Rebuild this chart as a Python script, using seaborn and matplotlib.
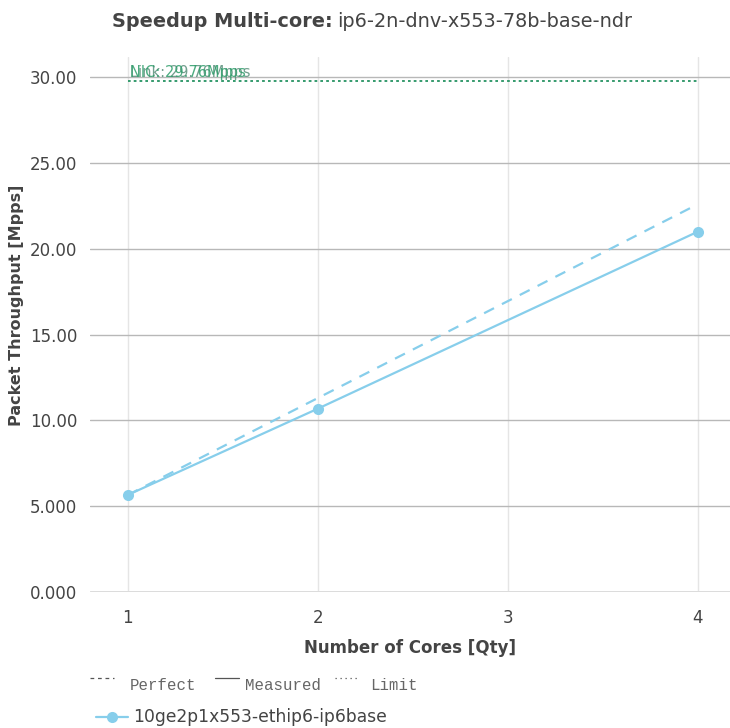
import matplotlib.pyplot as plt
import matplotlib.lines as mlines
import pandas as pd
import seaborn as sns

# data
cores = [1, 2, 4]
measured = [5.65, 10.68, 21.0]
perfect = [5.65, 11.3, 22.6]
limit_labels = ["Link: 29.76Mpps", "NIC: 29.76Mpps"]
limit_values = [29.76, 29.76]
limit_colors = ["#5a8f7b", "#2e9e6b"]
series_name = "10ge2p1x553-ethip6-ip6base"
y_ticks = [0, 5, 10, 15, 20, 25, 30]
y_tick_labels = ["0.000", "5.000", "10.00", "15.00", "20.00", "25.00", "30.00"]
x_ticks = [1, 2, 3, 4]

LINE_COLOR = "#87ceeb"
TEXT_COLOR = "#444444"
SANS = "DejaVu Sans"

sns.set_style("white")
plt.rcParams["font.family"] = [SANS]
plt.rcParams["font.sans-serif"] = [SANS]

df = pd.DataFrame({"cores": cores, "measured": measured, "perfect": perfect})

fig = plt.figure(figsize=(7.3, 7.28), dpi=100)
ax = fig.add_axes([0.123, 0.187, 0.877, 0.735])

sns.lineplot(data=df, x="cores", y="perfect", ax=ax, color=LINE_COLOR,
             linewidth=1.6, linestyle=(0, (5, 4)))
sns.lineplot(data=df, x="cores", y="measured", ax=ax, color=LINE_COLOR,
             linewidth=1.6, marker="o", markersize=8, markeredgewidth=0)

# the two limit labels sit on top of each other, as in the reference
for lab, val, col in zip(limit_labels, limit_values, limit_colors):
    ax.plot([cores[0], cores[-1]], [val, val], color=col, linewidth=1.2,
            linestyle=(0, (1.5, 2)))
    ax.text(cores[0] + 0.01, val + 0.1, lab, color=col, fontsize=10.5,
            family=SANS, ha="left", va="bottom", alpha=0.85)

ax.set_xlim(0.8, 4.17)
ax.set_ylim(0, 31.2)
ax.set_xticks(x_ticks)
ax.set_xticklabels([str(x) for x in x_ticks], family=SANS)
ax.set_yticks(y_ticks)
ax.set_yticklabels(y_tick_labels, family=SANS)
ax.tick_params(axis="both", labelsize=12, labelcolor=TEXT_COLOR)
ax.tick_params(axis="y", length=6, color="#b0b0b0", width=1, pad=3)
ax.tick_params(axis="x", length=4, color="#e0e0e0", width=1, pad=8)

ax.grid(axis="x", color="#e5e5e5", linewidth=1)
ax.grid(axis="y", color="#b8b8b8", linewidth=1)
ax.axhline(0, color="#e0e0e0", linewidth=1.2, zorder=0.5)
ax.set_axisbelow(True)
for s in ax.spines.values():
    s.set_visible(False)

ax.set_xlabel("Number of Cores [Qty]", fontsize=12, fontweight="bold",
              family=SANS, color=TEXT_COLOR, labelpad=9)
ax.set_ylabel("Packet Throughput [Mpps]", fontsize=11.5, fontweight="bold",
              family=SANS, color=TEXT_COLOR)
ax.yaxis.set_label_coords(-0.102, 0.535)

# title: bold prefix + normal suffix
t1 = fig.text(0.153, 0.970, "Speedup Multi-core:", fontsize=13.9, fontweight="bold",
              family=SANS, color=TEXT_COLOR, ha="left", va="center")
fig.canvas.draw()
bb = t1.get_window_extent()
fig.text(bb.x1 / fig.bbox.width + 0.006, 0.970, "ip6-2n-dnv-x553-78b-base-ndr",
         fontsize=13.9, family=SANS, color=TEXT_COLOR, ha="left", va="center")

# style legend row
mono = "Liberation Mono"
y_leg = 1 - 685 / 728
items = [((0, (3, 3)), "Perfect", 90, 130), ("-", "Measured", 215, 245),
         ((0, (1, 3)), "Limit", 335, 370)]
for ls, lab, xl, xt in items:
    fig.add_artist(mlines.Line2D([xl / 730, (xl + 24) / 730],
                                 [y_leg + 0.009, y_leg + 0.009],
                                 color="#555555", linewidth=0.9,
                                 linestyle=ls, transform=fig.transFigure))
    fig.text(xt / 730, y_leg, lab, family=mono, fontsize=11.3,
             color="#666666", ha="left", va="center")

# series legend
y_ser = 1 - 717 / 728
fig.add_artist(mlines.Line2D([96 / 730, 128 / 730], [y_ser, y_ser], color=LINE_COLOR,
                             linewidth=1.6, transform=fig.transFigure))
fig.add_artist(mlines.Line2D([112 / 730], [y_ser], color=LINE_COLOR, marker="o",
                             markersize=8, markeredgewidth=0,
                             transform=fig.transFigure))
fig.text(133 / 730, y_ser, series_name, fontsize=12.3, family=SANS, color=TEXT_COLOR,
         ha="left", va="center")

fig.savefig("out.png", dpi=100)
